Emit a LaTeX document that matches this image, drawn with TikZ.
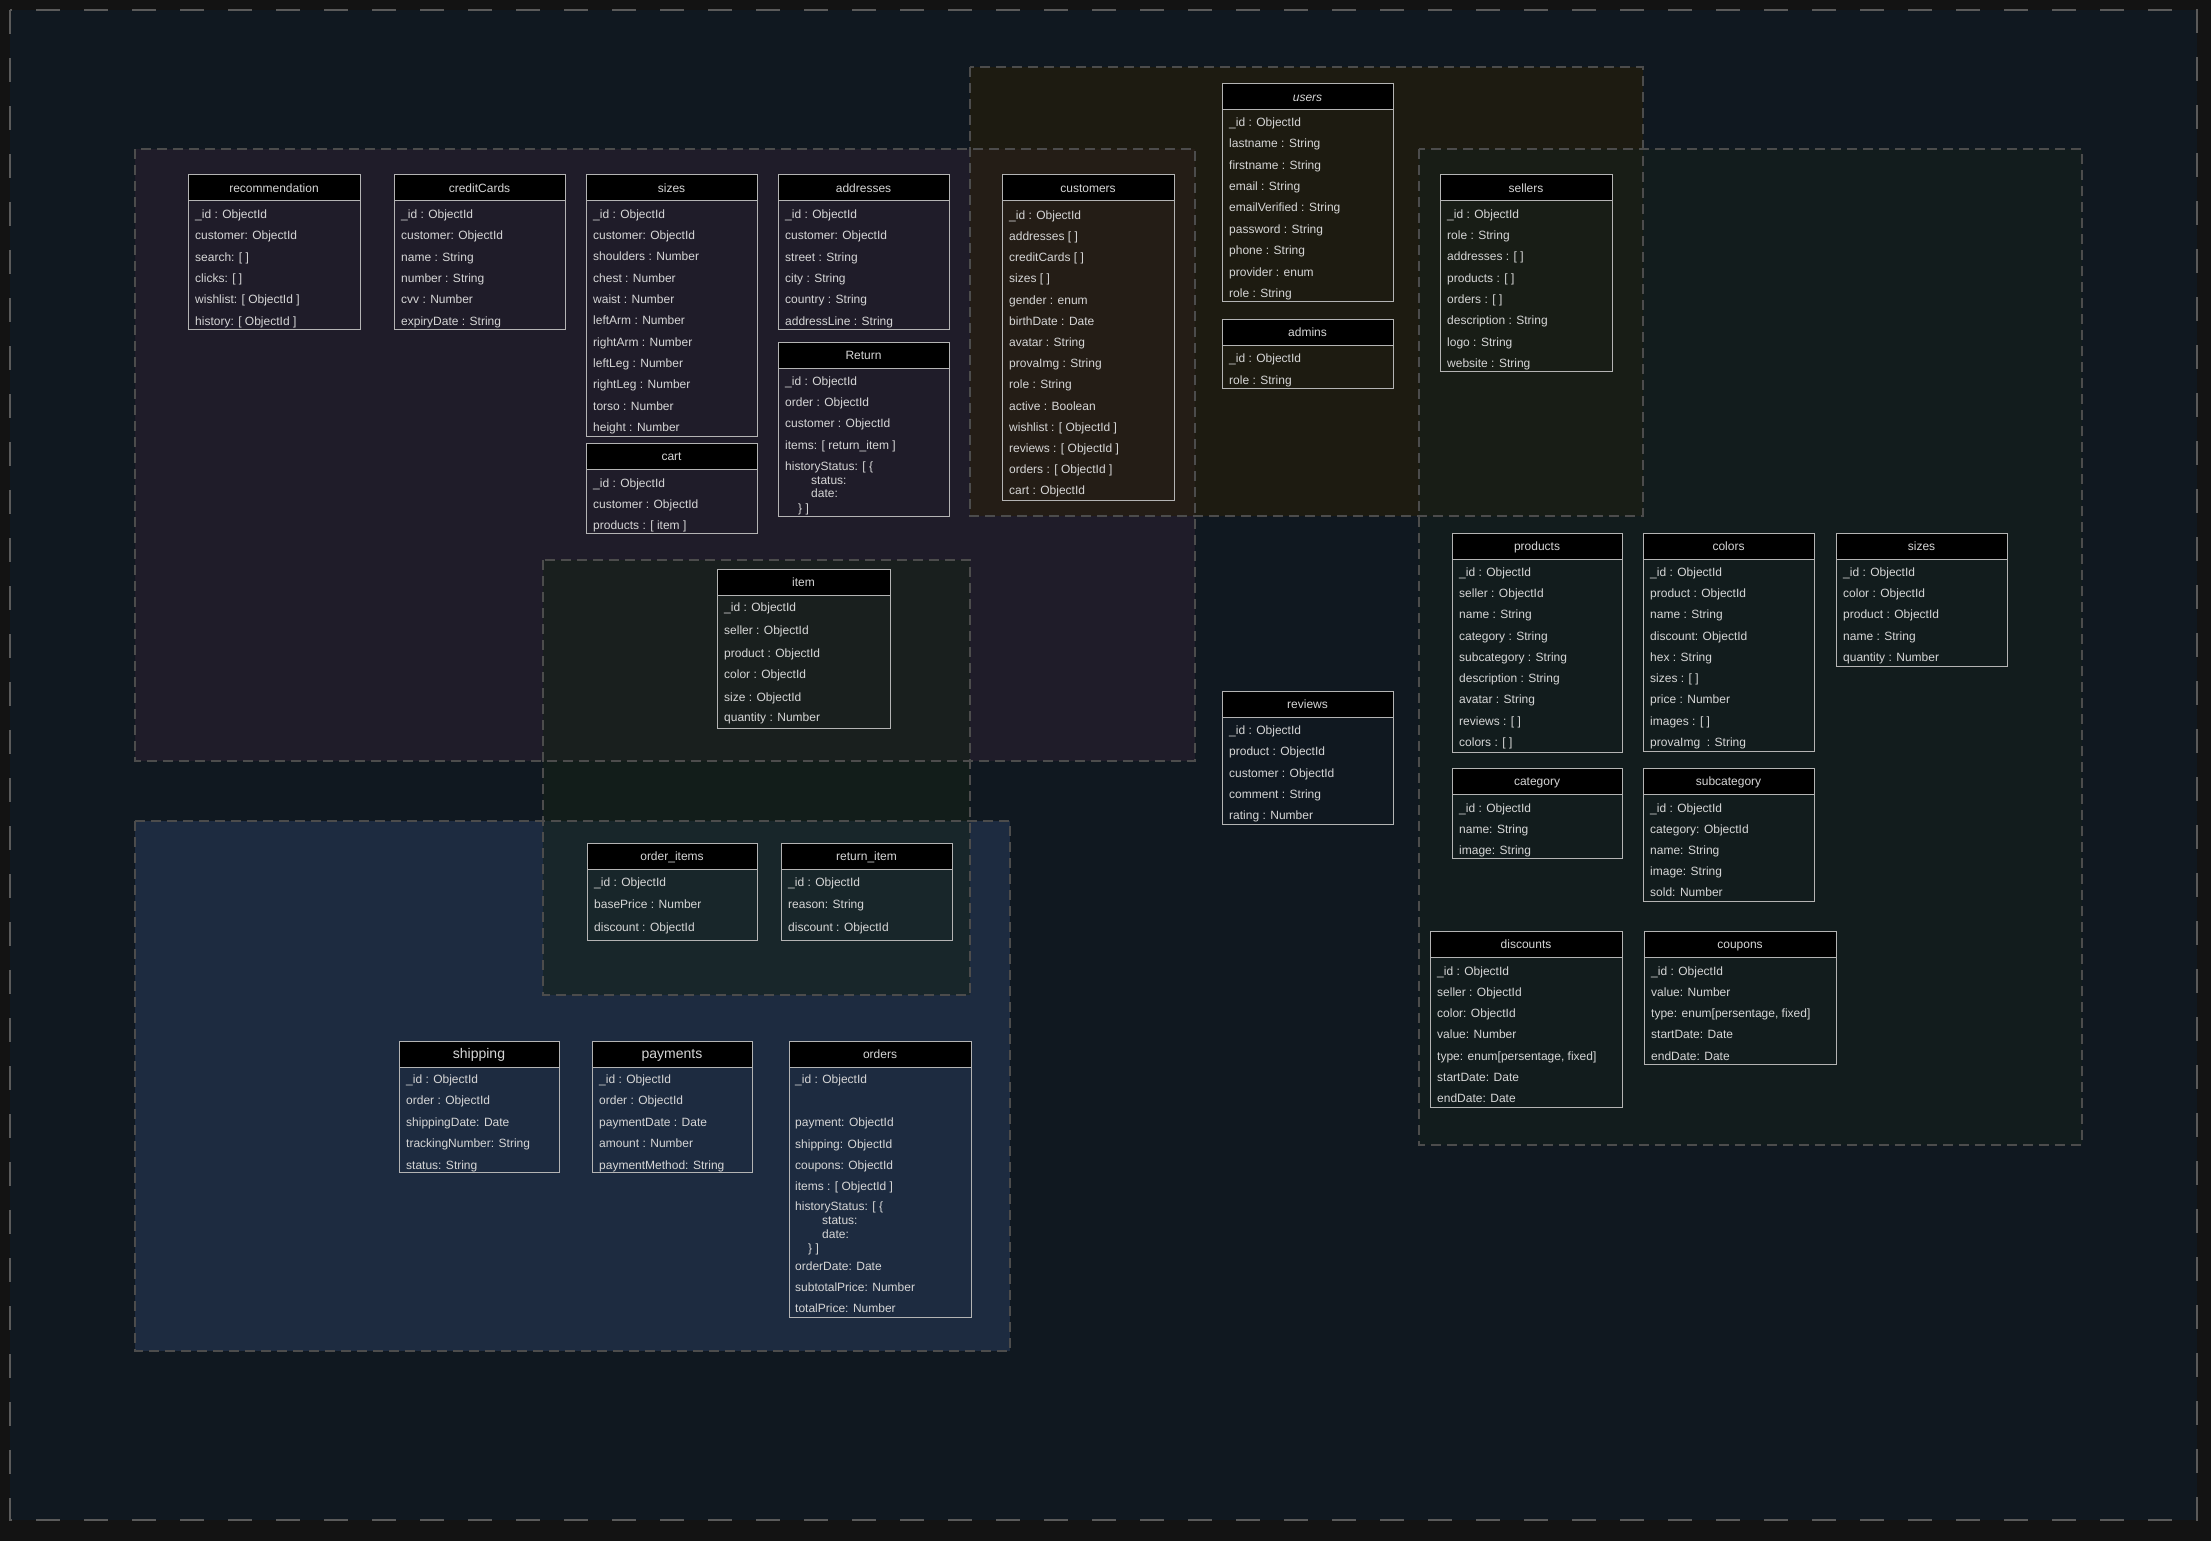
\documentclass[tikz,border=0pt]{standalone}
\usepackage{fontspec}
\setmainfont{Liberation Sans}
\usetikzlibrary{calc}
\definecolor{canvas}{HTML}{131313}
\definecolor{framebg}{HTML}{101820}
\definecolor{framel}{HTML}{5A5A5A}
\definecolor{grpline}{HTML}{4C4C4C}
\definecolor{gpurple}{RGB}{46,32,50}
\definecolor{gyellow}{RGB}{42,30,4}
\definecolor{ggreen}{RGB}{20,32,28}
\definecolor{gitem}{RGB}{21,34,21}
\definecolor{gblue}{RGB}{42,62,96}
\definecolor{tblline}{HTML}{B4B4B4}
\definecolor{txt}{HTML}{D6D6D6}
\tikzset{
  tblbox/.style={draw=tblline, line width=1pt},
  tblhead/.style={draw=tblline, fill=black, line width=1pt},
  tbltitle/.style={text=txt, font=\fontsize{12}{14}\selectfont, inner sep=0pt, anchor=base},
  fld/.style={text=txt, font=\fontsize{12}{14}\selectfont, anchor=base west, inner sep=0pt},
  grpfill/.style={fill opacity=0.5},
  grpborder/.style={draw=grpline, dash pattern=on 10pt off 6pt, line width=1.1pt},
}
\newcommand\dbtable[6]{%
  \draw[tblbox] (#2,#3) rectangle ++(#4,#5);
  \draw[tblhead] (#2,#3) rectangle ++(#4,26);
  \node[tbltitle] (#1) at ({#2+#4/2},{#3+17.5}) {#6};
}
\newcommand\dbfields[5]{%
  \foreach \t [count=\i from 0] in {#5} {
    \node[fld] (#1-f\i) at ({#2+7},{#3+4.3+#4*\i}) {\t};
  }
}
\newcommand\dbfield[4]{%
  \node[fld] (#1) at ({#2},{#3+4.3}) {#4};
}
\begin{document}
\begin{tikzpicture}[x=1pt,y=-1pt]
\useasboundingbox (0,0) rectangle (2211,1541);
\fill[canvas] (0,0) rectangle (2211,1541);
\fill[framebg] (10,10) rectangle (2197,1520);
\draw[framel, line width=1.5pt, dash pattern=on 24pt off 24pt] (10,10) rectangle (2197,1520);
% group fills
\fill[gpurple, grpfill] (135,149) rectangle (1195,761);
\fill[gyellow, grpfill] (970,67) rectangle (1643,516);
\fill[ggreen, grpfill] (1419,149) rectangle (2082,1145);
\fill[gblue, grpfill] (135,821) rectangle (1010,1351);
\fill[gitem, grpfill] (543,560) rectangle (970,995);
% group borders
\draw[grpborder] (135,149) rectangle (1195,761);
\draw[grpborder] (970,67) rectangle (1643,516);
\draw[grpborder] (1419,149) rectangle (2082,1145);
\draw[grpborder] (135,821) rectangle (1010,1351);
\draw[grpborder] (543,560) rectangle (970,995);

% recommendation
\dbtable{recommendation}{188}{175}{172}{154}{recommendation}
\dbfields{recommendation}{188}{214}{21.4}{{\_id : ObjectId},{customer: ObjectId},{search: [ ]},{clicks: [ ]},{wishlist: [ ObjectId ]},{history: [ ObjectId ]}}
% creditCards
\dbtable{creditCards}{394}{175}{171}{154}{creditCards}
\dbfields{creditCards}{394}{214}{21.4}{{\_id : ObjectId},{customer: ObjectId},{name : String},{number : String},{cvv : Number},{expiryDate : String}}
% sizes (customer)
\dbtable{csizes}{586}{175}{171}{261}{sizes}
\dbfields{csizes}{586}{214}{21.3}{{\_id : ObjectId},{customer: ObjectId},{shoulders : Number},{chest : Number},{waist : Number},{leftArm : Number},{rightArm : Number},{leftLeg : Number},{rightLeg : Number},{torso : Number},{height : Number}}
% cart
\dbtable{cart}{586}{443}{171}{90}{cart}
\dbfields{cart}{586}{483}{21}{{\_id : ObjectId},{customer : ObjectId},{products : [ item ]}}
% addresses
\dbtable{addresses}{778}{175}{171}{154}{addresses}
\dbfields{addresses}{778}{214}{21.4}{{\_id : ObjectId},{customer: ObjectId},{street : String},{city : String},{country : String},{addressLine : String}}
% Return
\dbtable{Return}{778}{342}{171}{174}{Return}
\dbfields{Return}{778}{381}{21.3}{{\_id : ObjectId},{order : ObjectId},{customer : ObjectId},{items: [ return\_item ]}}
\dbfield{Return-h0}{785}{466}{historyStatus: [ \{}
\dbfield{Return-h1}{811}{480}{status:}
\dbfield{Return-h2}{811}{493}{date:}
\dbfield{Return-h3}{798}{508}{\} ]}
% customers
\dbtable{customers}{1002}{175}{172}{325}{customers}
\dbfields{customers}{1002}{215}{21.2}{{\_id : ObjectId},{addresses [ ]},{creditCards [ ]},{sizes [ ]},{gender : enum},{birthDate : Date},{avatar : String},{provaImg : String},{role : String},{active : Boolean},{wishlist : [ ObjectId ]},{reviews : [ ObjectId ]},{orders : [ ObjectId ]},{cart : ObjectId}}
% users
\dbtable{users}{1222}{84}{171}{217}{\itshape users}
\dbfields{users}{1222}{122}{21.4}{{\_id : ObjectId},{lastname : String},{firstname : String},{email : String},{emailVerified : String},{password : String},{phone : String},{provider : enum},{role : String}}
% admins
\dbtable{admins}{1222}{319}{171}{69}{admins}
\dbfields{admins}{1222}{358}{22}{{\_id : ObjectId},{role : String}}
% sellers
\dbtable{sellers}{1440}{175}{172}{196}{sellers}
\dbfields{sellers}{1440}{214}{21.3}{{\_id : ObjectId},{role : String},{addresses : [ ]},{products :  [ ]},{orders : [ ]},{description : String},{logo : String},{website : String}}
% products
\dbtable{products}{1452}{533}{170}{219}{products}
\dbfields{products}{1452}{572}{21.25}{{\_id : ObjectId},{seller : ObjectId},{name : String},{category : String},{subcategory : String},{description : String},{avatar : String},{reviews : [ ]},{colors : [ ]}}
% colors
\dbtable{colors}{1643}{533}{171}{218}{colors}
\dbfields{colors}{1643}{572}{21.25}{{\_id : ObjectId},{product : ObjectId},{name : String},{discount: ObjectId},{hex : String},{sizes : [ ]},{price : Number},{images : [ ]},{provaImg~ : String}}
% sizes (product)
\dbtable{psizes}{1836}{533}{171}{133}{sizes}
\dbfields{psizes}{1836}{572}{21.25}{{\_id : ObjectId},{color : ObjectId},{product : ObjectId},{name : String},{quantity : Number}}
% reviews
\dbtable{reviews}{1222}{691}{171}{133}{reviews}
\dbfields{reviews}{1222}{730}{21.4}{{\_id : ObjectId},{product : ObjectId},{customer : ObjectId},{comment : String},{rating : Number}}
% category
\dbtable{category}{1452}{768}{170}{90}{category}
\dbfields{category}{1452}{808}{21}{{\_id : ObjectId},{name: String},{image: String}}
% subcategory
\dbtable{subcategory}{1643}{768}{171}{133}{subcategory}
\dbfields{subcategory}{1643}{808}{21.1}{{\_id : ObjectId},{category: ObjectId},{name: String},{image: String},{sold: Number}}
% discounts
\dbtable{discounts}{1430}{931}{192}{176}{discounts}
\dbfields{discounts}{1430}{971}{21.2}{{\_id : ObjectId},{seller : ObjectId},{color: ObjectId},{value: Number},{type: enum[persentage, fixed]},{startDate: Date},{endDate: Date}}
% coupons
\dbtable{coupons}{1644}{931}{192}{133}{coupons}
\dbfields{coupons}{1644}{971}{21.2}{{\_id : ObjectId},{value: Number},{type: enum[persentage, fixed]},{startDate: Date},{endDate: Date}}
% item
\dbtable{item}{717}{569}{173}{159}{item}
\dbfield{item-f0}{724}{607}{\_id : ObjectId}
\dbfield{item-f1}{724}{630}{seller : ObjectId}
\dbfield{item-f2}{724}{653}{product : ObjectId}
\dbfield{item-f3}{724}{674}{color : ObjectId}
\dbfield{item-f4}{724}{697}{size : ObjectId}
\dbfield{item-f5}{724}{717}{quantity : Number}
% order_items
\dbtable{orderitems}{587}{843}{170}{97}{order\_items}
\dbfield{orderitems-f0}{594}{882}{\_id : ObjectId}
\dbfield{orderitems-f1}{594}{904}{basePrice : Number}
\dbfield{orderitems-f2}{594}{927}{discount : ObjectId}
% return_item
\dbtable{returnitem}{781}{843}{171}{97}{return\_item}
\dbfield{returnitem-f0}{788}{882}{\_id : ObjectId}
\dbfield{returnitem-f1}{788}{904}{reason: String}
\dbfield{returnitem-f2}{788}{927}{discount : ObjectId}
% shipping
\dbtable{shipping}{399}{1041}{160}{131}{\fontsize{14}{16}\selectfont shipping}
\dbfields{shipping}{399}{1079}{21.5}{{\_id : ObjectId},{order : ObjectId},{shippingDate: Date},{trackingNumber: String},{status: String}}
% payments
\dbtable{payments}{592}{1041}{160}{131}{\fontsize{14}{16}\selectfont payments}
\dbfields{payments}{592}{1079}{21.5}{{\_id : ObjectId},{order : ObjectId},{paymentDate : Date},{amount : Number},{paymentMethod: String}}
% orders
\dbtable{orders}{789}{1041}{182}{276}{orders}
\dbfield{orders-f0}{795}{1079}{\_id : ObjectId}
\dbfield{orders-f1}{795}{1122}{payment: ObjectId}
\dbfield{orders-f2}{795}{1144}{shipping: ObjectId}
\dbfield{orders-f3}{795}{1165}{coupons: ObjectId}
\dbfield{orders-f4}{795}{1186}{items : [ ObjectId ]}
\dbfield{orders-h0}{795}{1206}{historyStatus: [ \{}
\dbfield{orders-h1}{822}{1220}{status:}
\dbfield{orders-h2}{822}{1234}{date:}
\dbfield{orders-h3}{808}{1248}{\} ]}
\dbfield{orders-f5}{795}{1266}{orderDate: Date}
\dbfield{orders-f6}{795}{1287}{subtotalPrice: Number}
\dbfield{orders-f7}{795}{1308}{totalPrice: Number}
\end{tikzpicture}
\end{document}
